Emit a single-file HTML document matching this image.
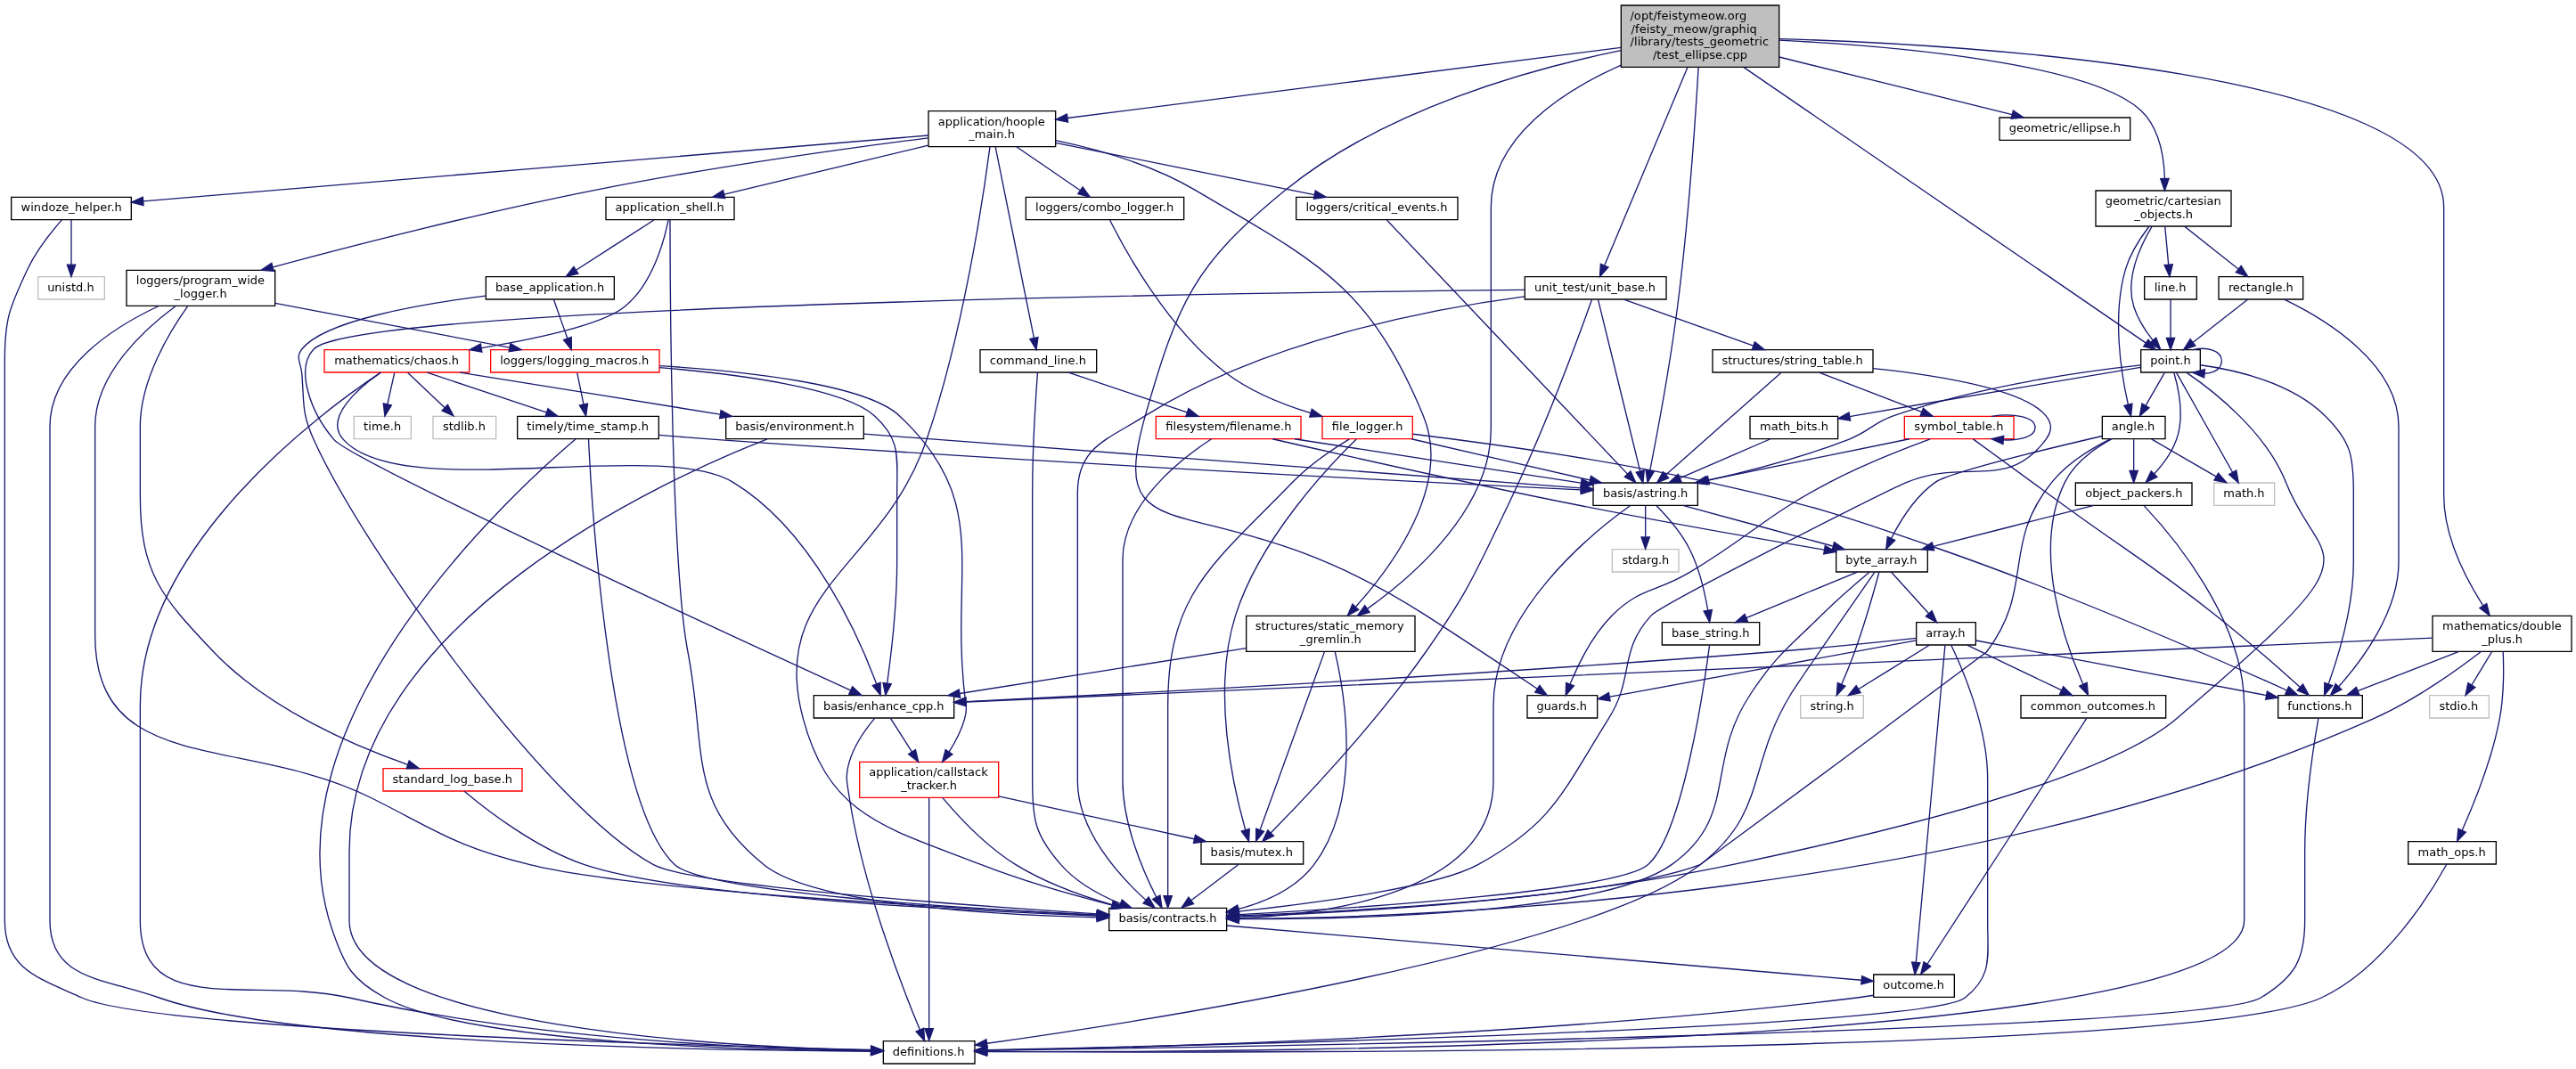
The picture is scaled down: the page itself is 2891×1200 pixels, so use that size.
<!DOCTYPE html>
<html lang="en">
<head>
<meta charset="utf-8">
<title>test_ellipse.cpp include dependency graph</title>
<style>
html,body{margin:0;padding:0;background:#fff;overflow:hidden}
svg{display:block;will-change:transform}
text{font-family:"DejaVu Sans","Liberation Sans",sans-serif;font-size:9.75px;fill:#000;}
.e{fill:none;stroke:#191970;stroke-width:1}
.ah{fill:#191970;stroke:#191970;stroke-width:1}
.nb{fill:#fff;stroke:#000;stroke-width:1}
.nr{fill:#fff;stroke:#f00;stroke-width:1}
.ng{fill:#fff;stroke:#bfbfbf;stroke-width:1}
.root{fill:#bfbfbf}
</style>
</head>
<body>
<svg width="2891.333px" height="1200px" viewBox="0 0 2168.5 900" preserveAspectRatio="none">
<g transform="translate(4 896)">
<polygon class="nb root" points="1360.5,-839.5 1360.5,-891.5 1493.5,-891.5 1493.5,-839.5 1360.5,-839.5"/>
<text x="1368.05" y="-879.5" textLength="98.079">/opt/feistymeow.org</text>
<text x="1368.95" y="-868.5" textLength="105.912">/feisty_meow/graphiq</text>
<text x="1368.2" y="-857.5" textLength="116.627">/library/tests_geometric</text>
<text x="1387.19" y="-846.5" textLength="79.62">/test_ellipse.cpp</text>
<polygon class="nb" points="777.5,-772.5 777.5,-802.5 884.5,-802.5 884.5,-772.5 777.5,-772.5"/>
<text x="785.65" y="-790.5" textLength="89.977">application/hoople</text>
<text x="811.464" y="-779.5" textLength="38.773">_main.h</text>
<path class="e" d="M1360.37,-856C1244.63,-841.25 1008.01,-811.07 894.5,-796.6"/>
<polygon class="ah" points="894.93,-793.12 884.57,-795.33 894.04,-800.07 894.93,-793.12"/>
<polygon class="nb" points="1337,-470.5 1337,-489.5 1425,-489.5 1425,-470.5 1337,-470.5"/>
<text x="1345.258" y="-477.5" textLength="71.484">basis/astring.h</text>
<path class="e" d="M1425.6,-839.29C1423.11,-797.38 1417.3,-710.81 1408,-638 1401.6,-587.87 1390.58,-529.31 1384.79,-499.9"/>
<polygon class="ah" points="1388.17,-498.94 1382.79,-489.81 1381.31,-500.3 1388.17,-498.94"/>
<polygon class="nb" points="1281.5,-291.5 1281.5,-310.5 1340.5,-310.5 1340.5,-291.5 1281.5,-291.5"/>
<text x="1289.36" y="-298.5" textLength="42.38">guards.h</text>
<path class="e" d="M1360.43,-853.48C1285,-838.16 1161.7,-804.23 1078,-736 1000.95,-673.19 987.27,-641.59 960,-546 923.64,-418.55 1011.8,-496.6 1196,-378 1229.04,-356.73 1267.01,-331.48 1289.99,-316.1"/>
<polygon class="ah" points="1291.94,-319.01 1298.3,-310.53 1288.05,-313.19 1291.94,-319.01"/>
<polygon class="nb" points="1045,-347.5 1045,-377.5 1187,-377.5 1187,-347.5 1045,-347.5"/>
<text x="1052.55" y="-365.5" textLength="125.152">structures/static_memory</text>
<text x="1090.112" y="-354.5" textLength="51.776">_gremlin.h</text>
<path class="e" d="M1360.46,-841.18C1310.62,-818.98 1251,-780.16 1251,-721.5 1251,-721.5 1251,-721.5 1251,-535 1251,-468.1 1186.79,-411.91 1146.94,-383.47"/>
<polygon class="ah" points="1148.8,-380.51 1138.6,-377.67 1144.81,-386.25 1148.8,-380.51"/>
<polygon class="nb" points="1760,-705.5 1760,-735.5 1874,-735.5 1874,-705.5 1760,-705.5"/>
<text x="1768" y="-723.5" textLength="97.528">geometric/cartesian</text>
<text x="1792.535" y="-712.5" textLength="49.231">_objects.h</text>
<path class="e" d="M1493.56,-862.12C1588.2,-857.34 1755.01,-843.29 1798,-803 1813.44,-788.53 1817.46,-764.16 1818.06,-745.83"/>
<polygon class="ah" points="1821.56,-745.6 1818.07,-735.59 1814.56,-745.59 1821.56,-745.6"/>
<polygon class="nb" points="1798,-582.5 1798,-601.5 1848,-601.5 1848,-582.5 1798,-582.5"/>
<text x="1805.943" y="-589.5" textLength="34.113">point.h</text>
<path class="e" d="M1463.54,-839.44C1544.76,-783.77 1738.09,-651.21 1802.05,-607.36"/>
<polygon class="ah" points="1804.25,-610.1 1810.52,-601.55 1800.3,-604.32 1804.25,-610.1"/>
<polygon class="nb" points="1679,-778 1679,-797 1789,-797 1789,-778 1679,-778"/>
<text x="1687.001" y="-785" textLength="93.999">geometric/ellipse.h</text>
<path class="e" d="M1493.61,-848.01C1552.97,-833.32 1638.16,-812.23 1689.58,-799.5"/>
<polygon class="ah" points="1690.53,-802.87 1699.39,-797.07 1688.84,-796.07 1690.53,-802.87"/>
<polygon class="nb" points="2043.5,-347.5 2043.5,-377.5 2160.5,-377.5 2160.5,-347.5 2043.5,-347.5"/>
<text x="2051.8" y="-365.5" textLength="100.313">mathematics/double</text>
<text x="2085.011" y="-354.5" textLength="34.277">_plus.h</text>
<path class="e" d="M1493.7,-863.28C1655,-858.53 2053,-835.28 2053,-721.5 2053,-721.5 2053,-721.5 2053,-479 2053,-444.54 2071.71,-408.56 2086.01,-386.1"/>
<polygon class="ah" points="2089.02,-387.9 2091.61,-377.63 2083.18,-384.04 2089.02,-387.9"/>
<polygon class="nb" points="1279.5,-644 1279.5,-663 1398.5,-663 1398.5,-644 1279.5,-644"/>
<text x="1287.579" y="-651" textLength="101.941">unit_test/unit_base.h</text>
<path class="e" d="M1416.39,-839.17C1398.41,-796.28 1362.41,-710.36 1346.66,-672.79"/>
<polygon class="ah" points="1349.72,-671.04 1342.63,-663.17 1343.27,-673.74 1349.72,-671.04"/>
<polygon class="nb" points="506,-711 506,-730 614,-730 614,-711 506,-711"/>
<text x="513.848" y="-718" textLength="91.704">application_shell.h</text>
<path class="e" d="M777.46,-773.66C727.3,-761.63 653.15,-743.84 605.71,-732.46"/>
<polygon class="ah" points="606.26,-729 595.72,-730.07 604.63,-735.8 606.26,-729"/>
<polygon class="nb" points="929.5,-112.5 929.5,-131.5 1028.5,-131.5 1028.5,-112.5 929.5,-112.5"/>
<text x="937.613" y="-119.5" textLength="82.474">basis/contracts.h</text>
<path class="e" d="M829.24,-772.34C824.05,-732.64 807.17,-617.2 776,-526 739.06,-417.92 642.24,-401.27 672,-291 694.46,-207.76 741.72,-199.43 822,-168 858.09,-153.87 900.41,-142 932.01,-134"/>
<polygon class="ah" points="933.01,-137.36 941.87,-131.54 931.32,-130.57 933.01,-137.36"/>
<polygon class="nb" points="821,-582.5 821,-601.5 919,-601.5 919,-582.5 821,-582.5"/>
<text x="829.09" y="-589.5" textLength="81.22">command_line.h</text>
<path class="e" d="M833.87,-772.27C840.82,-737.8 858.55,-649.81 866.29,-611.4"/>
<polygon class="ah" points="869.73,-612.07 868.27,-601.58 862.86,-610.69 869.73,-612.07"/>
<polygon class="nb" points="5.5,-711 5.5,-730 106.5,-730 106.5,-711 5.5,-711"/>
<text x="13.662" y="-718" textLength="84.975">windoze_helper.h</text>
<path class="e" d="M777.43,-782.01C637.9,-770.3 263.94,-738.94 116.74,-726.59"/>
<polygon class="ah" points="116.8,-723.09 106.54,-725.74 116.21,-730.06 116.8,-723.09"/>
<polygon class="nb" points="859.5,-711 859.5,-730 992.5,-730 992.5,-711 859.5,-711"/>
<text x="867.555" y="-718" textLength="116.29">loggers/combo_logger.h</text>
<path class="e" d="M851.61,-772.4C867.4,-761.6 889.09,-746.76 904.97,-735.89"/>
<polygon class="ah" points="907.29,-738.54 913.57,-730.01 903.34,-732.77 907.29,-738.54"/>
<polygon class="nb" points="1087,-711 1087,-730 1223,-730 1223,-711 1087,-711"/>
<text x="1095.077" y="-718" textLength="119.245">loggers/critical_events.h</text>
<path class="e" d="M884.5,-775.77C944.82,-763.67 1042.27,-744.11 1102.27,-732.08"/>
<polygon class="ah" points="1103.18,-735.47 1112.29,-730.07 1101.8,-728.6 1103.18,-735.47"/>
<path class="e" d="M884.6,-777.73C919.76,-770.33 965.75,-757.42 1002,-736 1105.36,-674.93 1147.77,-656.79 1194,-546 1218.32,-487.71 1167.82,-419.33 1137.18,-385.19"/>
<polygon class="ah" points="1139.59,-382.64 1130.24,-377.66 1134.45,-387.39 1139.59,-382.64"/>
<polygon class="nb" points="102.5,-638.5 102.5,-668.5 227.5,-668.5 227.5,-638.5 102.5,-638.5"/>
<text x="110.65" y="-656.5" textLength="108.068">loggers/program_wide</text>
<text x="142.713" y="-645.5" textLength="44.273">_logger.h</text>
<path class="e" d="M777.23,-779.9C711.01,-771.41 595.23,-755.44 497,-736 401.47,-717.09 292.02,-688.94 225.73,-671.16"/>
<polygon class="ah" points="226.43,-667.73 215.87,-668.51 224.61,-674.49 226.43,-667.73"/>
<polygon class="nb" points="405,-644 405,-663 513,-663 513,-644 405,-644"/>
<text x="413.011" y="-651" textLength="91.678">base_application.h</text>
<path class="e" d="M546.38,-710.73C529.57,-699.92 500.77,-681.38 480.86,-668.57"/>
<polygon class="ah" points="482.71,-665.6 472.41,-663.13 478.92,-671.48 482.71,-665.6"/>
<path class="e" d="M559.99,-710.7C560.01,-661.47 560.84,-419.91 575,-347 591.11,-264.06 573.28,-221.09 639,-168 680.89,-134.16 833.35,-125.67 919.2,-123.61"/>
<polygon class="ah" points="919.4,-127.1 929.32,-123.39 919.25,-120.11 919.4,-127.1"/>
<polygon class="nr" points="269,-582.5 269,-601.5 391,-601.5 391,-582.5 269,-582.5"/>
<text x="277.391" y="-589.5" textLength="104.918">mathematics/chaos.h</text>
<path class="e" d="M558.53,-710.84C555.21,-694.06 545.51,-657.1 522,-638 503.43,-622.91 447.92,-610.89 401.34,-603.08"/>
<polygon class="ah" points="401.68,-599.59 391.24,-601.43 400.55,-606.5 401.68,-599.59"/>
<path class="e" d="M404.76,-646.94C349.38,-640.01 268.93,-626.05 250,-602 244.5,-595.02 249.22,-590.85 250,-582 252.23,-556.82 249.57,-549.03 260,-526 302.02,-433.25 456.65,-216.83 546,-168 578.04,-150.49 808.38,-133.78 919.43,-126.63"/>
<polygon class="ah" points="919.71,-130.12 929.47,-125.99 919.27,-123.14 919.71,-130.12"/>
<polygon class="nr" points="409,-582.5 409,-601.5 551,-601.5 551,-582.5 409,-582.5"/>
<text x="416.931" y="-589.5" textLength="125.238">loggers/logging_macros.h</text>
<path class="e" d="M462.01,-643.98C465.03,-635.4 469.79,-621.93 473.65,-610.98"/>
<polygon class="ah" points="476.97,-612.1 477,-601.51 470.37,-609.77 476.97,-612.1"/>
<polygon class="nb" points="1573,-56.5 1573,-75.5 1641,-75.5 1641,-56.5 1573,-56.5"/>
<text x="1580.996" y="-63.5" textLength="51.408">outcome.h</text>
<path class="e" d="M1028.54,-116.74C1147.77,-106.49 1449.2,-80.57 1562.79,-70.8"/>
<polygon class="ah" points="1563.2,-74.28 1572.86,-69.94 1562.6,-67.31 1563.2,-74.28"/>
<polygon class="nb" points="739.5,-0.5 739.5,-19.5 816.5,-19.5 816.5,-0.5 739.5,-0.5"/>
<text x="747.306" y="-7.5" textLength="60.488">definitions.h</text>
<path class="e" d="M1573,-58.07C1568.31,-57.28 1563.54,-56.55 1559,-56 1283.58,-22.38 950.37,-13.76 827,-11.65"/>
<polygon class="ah" points="826.81,-8.15 816.76,-11.48 826.7,-15.15 826.81,-8.15"/>
<polygon class="nr" points="719.5,-224.5 719.5,-254.5 836.5,-254.5 836.5,-224.5 719.5,-224.5"/>
<text x="727.35" y="-242.5" textLength="100.186">application/callstack</text>
<text x="754.458" y="-231.5" textLength="47.084">_tracker.h</text>
<path class="e" d="M551.24,-588.05C622.18,-583.61 724.5,-572.66 753,-546 831.33,-472.72 795.7,-417.56 808,-311 809.02,-302.17 810.35,-299.57 808,-291 805.3,-281.18 800.14,-271.33 794.85,-262.98"/>
<polygon class="ah" points="797.67,-260.9 789.17,-254.57 791.87,-264.82 797.67,-260.9"/>
<polygon class="nb" points="681,-291.5 681,-310.5 799,-310.5 799,-291.5 681,-291.5"/>
<text x="689.018" y="-298.5" textLength="101.665">basis/enhance_cpp.h</text>
<path class="e" d="M551.03,-586.58C616.01,-581.1 705.87,-569.45 732,-546 754.4,-525.89 751,-511.1 751,-481 751,-481 751,-481 751,-423 751,-386.75 746.04,-344.63 742.78,-320.87"/>
<polygon class="ah" points="746.22,-320.19 741.35,-310.78 739.29,-321.17 746.22,-320.19"/>
<polygon class="nb" points="431.5,-526.5 431.5,-545.5 550.5,-545.5 550.5,-526.5 431.5,-526.5"/>
<text x="439.441" y="-533.5" textLength="102.518">timely/time_stamp.h</text>
<path class="e" d="M481.82,-582.08C483.27,-574.93 485.37,-564.64 487.19,-555.69"/>
<polygon class="ah" points="490.65,-556.25 489.22,-545.75 483.79,-554.85 490.65,-556.25"/>
<path class="e" d="M789.26,-224.47C802.53,-208.75 825.96,-183.46 851,-168 875.95,-152.6 906.9,-141.54 932.12,-134.23"/>
<polygon class="ah" points="933.14,-137.58 941.83,-131.52 931.25,-130.84 933.14,-137.58"/>
<path class="e" d="M778,-224.27C778,-184.89 778,-74.49 778,-29.97"/>
<polygon class="ah" points="781.5,-29.93 778,-19.93 774.5,-29.93 781.5,-29.93"/>
<polygon class="nb" points="1007,-168.5 1007,-187.5 1093,-187.5 1093,-168.5 1007,-168.5"/>
<text x="1014.943" y="-175.5" textLength="69.213">basis/mutex.h</text>
<path class="e" d="M836.69,-225.66C885.76,-214.93 954.95,-199.79 1001.07,-189.7"/>
<polygon class="ah" points="1002.1,-193.06 1011.13,-187.5 1000.61,-186.22 1002.1,-193.06"/>
<path class="e" d="M1038.59,-168.32C1027.89,-160.18 1011.66,-147.84 998.84,-138.09"/>
<polygon class="ah" points="1000.69,-135.1 990.61,-131.83 996.46,-140.67 1000.69,-135.1"/>
<path class="e" d="M732.33,-291.46C725.22,-282.93 715.15,-269.09 711,-255 707.11,-241.78 708.91,-237.62 711,-224 722.46,-149.37 755.27,-65 770.3,-28.92"/>
<polygon class="ah" points="773.53,-30.27 774.2,-19.7 767.08,-27.55 773.53,-30.27"/>
<path class="e" d="M745.44,-291.48C750.16,-284.09 757.19,-273.08 763.52,-263.17"/>
<polygon class="ah" points="766.61,-264.83 769.04,-254.52 760.71,-261.07 766.61,-264.83"/>
<path class="e" d="M491.38,-526.31C493.82,-475.6 508.77,-218.55 564,-168 589.67,-144.51 810.39,-130.94 919.06,-125.62"/>
<polygon class="ah" points="919.4,-129.11 929.22,-125.13 919.06,-122.12 919.4,-129.11"/>
<path class="e" d="M480.66,-526.47C430.25,-483.77 215.01,-288.34 276,-112 286.35,-82.09 292.24,-71.21 320,-56 389.43,-17.95 625.87,-11.84 729.11,-11.03"/>
<polygon class="ah" points="729.28,-14.53 739.26,-10.96 729.24,-7.53 729.28,-14.53"/>
<path class="e" d="M550.69,-529.7C566.09,-528.41 582.66,-527.09 598,-526 871.46,-506.64 1199.11,-489.9 1326.56,-483.63"/>
<polygon class="ah" points="1327.01,-487.11 1336.82,-483.13 1326.66,-480.12 1327.01,-487.11"/>
<path class="e" d="M1368.26,-470.32C1335.88,-447.13 1253,-380.12 1253,-302 1253,-302 1253,-302 1253,-238.5 1253,-146.17 1119.26,-126.48 1038.66,-122.99"/>
<polygon class="ah" points="1038.74,-119.49 1028.62,-122.63 1038.49,-126.49 1038.74,-119.49"/>
<polygon class="nb" points="1395,-353 1395,-372 1477,-372 1477,-353 1395,-353"/>
<text x="1403.046" y="-360" textLength="65.609">base_string.h</text>
<path class="e" d="M1390.26,-470.21C1398.69,-461.71 1410.87,-448.07 1418,-434 1426.37,-417.48 1431.06,-396.76 1433.54,-382.06"/>
<polygon class="ah" points="1437,-382.58 1435.02,-372.17 1430.07,-381.54 1437,-382.58"/>
<polygon class="nb" points="1541.5,-414.5 1541.5,-433.5 1618.5,-433.5 1618.5,-414.5 1541.5,-414.5"/>
<text x="1549.527" y="-421.5" textLength="60.047">byte_array.h</text>
<path class="e" d="M1412.53,-470.44C1446.59,-461.2 1501.01,-446.44 1538.52,-436.26"/>
<polygon class="ah" points="1539.88,-439.51 1548.62,-433.52 1538.05,-432.76 1539.88,-439.51"/>
<polygon class="ng" points="1353,-414.5 1353,-433.5 1409,-433.5 1409,-414.5 1353,-414.5"/>
<text x="1361.288" y="-421.5" textLength="39.724">stdarg.h</text>
<path class="e" d="M1381,-470.08C1381,-463.01 1381,-452.86 1381,-443.99"/>
<polygon class="ah" points="1384.5,-443.75 1381,-433.75 1377.5,-443.75 1384.5,-443.75"/>
<path class="e" d="M1434.88,-352.57C1430.33,-317.91 1412.13,-192.89 1383,-168 1357.4,-146.12 1145.34,-131.85 1039.13,-126.01"/>
<polygon class="ah" points="1039.06,-122.5 1028.89,-125.45 1038.68,-129.49 1039.06,-122.5"/>
<path class="e" d="M1569.52,-414.38C1558.98,-405.56 1542.41,-391.31 1529,-378 1500.63,-349.84 1490.95,-344.41 1469,-311 1430.56,-252.5 1459.89,-208.79 1403,-168 1346.08,-127.18 1141.6,-122.12 1038.84,-122.26"/>
<polygon class="ah" points="1038.61,-118.76 1028.62,-122.29 1038.63,-125.76 1038.61,-118.76"/>
<path class="e" d="M1574.06,-414.48C1557.12,-390.17 1509.42,-321.6 1503,-311 1465.73,-249.43 1483.94,-212.02 1427,-168 1331.36,-94.06 960.78,-36.39 826.74,-17.56"/>
<polygon class="ah" points="827.14,-14.08 816.75,-16.16 826.17,-21.01 827.14,-14.08"/>
<path class="e" d="M1559.37,-414.48C1534.88,-404.36 1493.85,-387.4 1465.89,-375.85"/>
<polygon class="ah" points="1467.17,-372.59 1456.59,-372.01 1464.5,-379.06 1467.17,-372.59"/>
<polygon class="nb" points="1609,-353 1609,-372 1659,-372 1659,-353 1609,-353"/>
<text x="1616.989" y="-360" textLength="33.122">array.h</text>
<path class="e" d="M1587.74,-414.48C1596,-405.37 1609.28,-390.74 1619.49,-379.48"/>
<polygon class="ah" points="1622.15,-381.77 1626.28,-372.01 1616.97,-377.06 1622.15,-381.77"/>
<polygon class="ng" points="1511.5,-291.5 1511.5,-310.5 1564.5,-310.5 1564.5,-291.5 1511.5,-291.5"/>
<text x="1519.685" y="-298.5" textLength="36.93">string.h</text>
<path class="e" d="M1577.74,-414.47C1573.91,-400.31 1565.71,-371.12 1557,-347 1553.72,-337.92 1549.59,-328.01 1546.03,-319.8"/>
<polygon class="ah" points="1549.17,-318.25 1541.92,-310.52 1542.77,-321.08 1549.17,-318.25"/>
<path class="e" d="M1633.19,-352.69C1629.47,-312.13 1613.97,-142.97 1608.73,-85.9"/>
<polygon class="ah" points="1612.2,-85.42 1607.8,-75.78 1605.23,-86.06 1612.2,-85.42"/>
<path class="e" d="M1638.29,-352.94C1647.64,-333.49 1669,-284.24 1669,-240.5 1669,-240.5 1669,-240.5 1669,-121 1669,-90.9 1673.61,-74.67 1650,-56 1617.54,-30.33 1005.81,-15.71 826.81,-11.97"/>
<polygon class="ah" points="826.7,-8.46 816.63,-11.76 826.56,-15.46 826.7,-8.46"/>
<path class="e" d="M1608.89,-358.75C1579.46,-355.6 1529.24,-350.42 1486,-347 1237.28,-327.32 941.3,-311.82 809.4,-305.32"/>
<polygon class="ah" points="809.2,-301.8 799.04,-304.81 808.86,-308.8 809.2,-301.8"/>
<polygon class="nb" points="1697,-291.5 1697,-310.5 1819,-310.5 1819,-291.5 1697,-291.5"/>
<text x="1705.066" y="-298.5" textLength="105.267">common_outcomes.h</text>
<path class="e" d="M1651.77,-352.98C1672.48,-343.03 1706.95,-326.49 1730.99,-314.96"/>
<polygon class="ah" points="1732.77,-317.99 1740.27,-310.51 1729.74,-311.68 1732.77,-317.99"/>
<polygon class="nb" points="1913.5,-291.5 1913.5,-310.5 1984.5,-310.5 1984.5,-291.5 1913.5,-291.5"/>
<text x="1921.485" y="-298.5" textLength="54.129">functions.h</text>
<path class="e" d="M1659.25,-356.73C1712.36,-346.7 1836.3,-323.29 1903.59,-310.58"/>
<polygon class="ah" points="1904.31,-314 1913.48,-308.71 1903.01,-307.13 1904.31,-314"/>
<path class="e" d="M1608.92,-356.88C1553.21,-346.62 1418.72,-321.84 1351.16,-309.4"/>
<polygon class="ah" points="1351.38,-305.88 1340.91,-307.51 1350.11,-312.76 1351.38,-305.88"/>
<path class="e" d="M1620.25,-352.98C1604.63,-343.3 1578.94,-327.37 1560.42,-315.89"/>
<polygon class="ah" points="1562.07,-312.8 1551.73,-310.51 1558.38,-318.75 1562.07,-312.8"/>
<path class="e" d="M1752.45,-291.43C1730.35,-257.33 1648.37,-130.84 1618.22,-84.32"/>
<polygon class="ah" points="1621.14,-82.38 1612.77,-75.9 1615.27,-86.19 1621.14,-82.38"/>
<path class="e" d="M1947.41,-291.23C1943.93,-271.34 1936,-221.26 1936,-179 1936,-179 1936,-179 1936,-121 1936,-87.76 1927.4,-73.28 1899,-56 1852.62,-27.78 1036.53,-14.58 826.81,-11.64"/>
<polygon class="ah" points="826.76,-8.14 816.71,-11.5 826.66,-15.14 826.76,-8.14"/>
<path class="e" d="M316.49,-582.39C269.2,-551.07 114,-437.93 114,-302 114,-302 114,-302 114,-121 114,-37.61 208.68,-74.43 290,-56 447.84,-20.23 640.55,-12.77 729.16,-11.3"/>
<polygon class="ah" points="729.24,-14.8 739.19,-11.15 729.14,-7.8 729.24,-14.8"/>
<path class="e" d="M316.41,-582.3C297.78,-569.33 268.42,-544.5 285,-526 333.94,-471.4 550.22,-527.89 613,-490 679.89,-449.63 719.37,-358.96 733.76,-320.17"/>
<polygon class="ah" points="737.07,-321.28 737.15,-310.69 730.48,-318.92 737.07,-321.28"/>
<path class="e" d="M355.51,-582.44C382.6,-573.36 425.59,-558.94 455.87,-548.78"/>
<polygon class="ah" points="457.24,-552.01 465.61,-545.52 455.01,-545.38 457.24,-552.01"/>
<polygon class="nb" points="607,-526.5 607,-545.5 723,-545.5 723,-526.5 607,-526.5"/>
<text x="614.913" y="-533.5" textLength="100.174">basis/environment.h</text>
<path class="e" d="M383.08,-582.44C442.5,-572.87 538.72,-557.36 601.93,-547.17"/>
<polygon class="ah" points="602.85,-550.56 612.17,-545.52 601.74,-543.65 602.85,-550.56"/>
<polygon class="ng" points="360.5,-526.5 360.5,-545.5 413.5,-545.5 413.5,-526.5 360.5,-526.5"/>
<text x="368.729" y="-533.5" textLength="35.941">stdlib.h</text>
<path class="e" d="M339.16,-582.32C347.5,-574.42 360.03,-562.55 370.18,-552.94"/>
<polygon class="ah" points="372.82,-555.25 377.68,-545.83 368.01,-550.17 372.82,-555.25"/>
<polygon class="ng" points="294,-526.5 294,-545.5 342,-545.5 342,-526.5 294,-526.5"/>
<text x="302.061" y="-533.5" textLength="31.577">time.h</text>
<path class="e" d="M328.02,-582.08C326.43,-574.93 324.14,-564.64 322.15,-555.69"/>
<polygon class="ah" points="325.53,-554.75 319.94,-545.75 318.7,-556.27 325.53,-554.75"/>
<path class="e" d="M641.83,-526.4C560.07,-494.42 290,-374.02 290,-179 290,-179 290,-179 290,-121 290,-31.65 605.23,-14.87 728.98,-11.72"/>
<polygon class="ah" points="729.38,-15.22 739.3,-11.48 729.22,-8.22 729.38,-15.22"/>
<path class="e" d="M723.29,-530.6C859,-520.37 1194.53,-495.06 1326.46,-485.11"/>
<polygon class="ah" points="1327.02,-488.58 1336.73,-484.34 1326.49,-481.6 1327.02,-488.58"/>
<path class="e" d="M869.35,-582.45C867.99,-563.95 865,-518.85 865,-481 865,-481 865,-481 865,-238.5 865,-205.4 867.23,-192.94 889,-168 902.18,-152.9 921.63,-142.29 939.08,-135.19"/>
<polygon class="ah" points="940.41,-138.43 948.51,-131.59 937.92,-131.88 940.41,-138.43"/>
<polygon class="nr" points="969,-526.5 969,-545.5 1091,-545.5 1091,-526.5 969,-526.5"/>
<text x="977.182" y="-533.5" textLength="105.935">filesystem/filename.h</text>
<path class="e" d="M895.35,-582.44C922.27,-573.36 965,-558.94 995.09,-548.78"/>
<polygon class="ah" points="996.41,-552.03 1004.77,-545.52 994.17,-545.4 996.41,-552.03"/>
<path class="e" d="M1015.7,-526.4C990.54,-510.06 941,-471.92 941,-425 941,-425 941,-425 941,-238.5 941,-202.25 958.09,-162.67 969.35,-140.53"/>
<polygon class="ah" points="972.46,-142.14 974.03,-131.66 966.27,-138.87 972.46,-142.14"/>
<path class="e" d="M1085.62,-526.44C1151.67,-516.28 1261.13,-499.44 1326.63,-489.36"/>
<polygon class="ah" points="1327.41,-492.79 1336.76,-487.81 1326.34,-485.87 1327.41,-492.79"/>
<path class="e" d="M1067.07,-526.44C1123.34,-513.55 1233.73,-488.69 1328,-470 1398.56,-456.01 1480.62,-441.72 1531.45,-433.11"/>
<polygon class="ah" points="1532.21,-436.53 1541.49,-431.41 1531.05,-429.62 1532.21,-436.53"/>
<path class="e" d="M48.03,-710.87C39.63,-701.32 26.57,-685.14 19,-669 4.21,-637.48 0,-627.82 0,-593 0,-593 0,-593 0,-121 0,-80.14 27.77,-72.82 65,-56 125.09,-28.86 577.31,-15.76 728.75,-12.1"/>
<polygon class="ah" points="729.21,-15.59 739.13,-11.85 729.04,-8.59 729.21,-15.59"/>
<polygon class="ng" points="28,-644 28,-663 84,-663 84,-644 28,-644"/>
<text x="35.851" y="-651" textLength="39.398">unistd.h</text>
<path class="e" d="M56,-710.73C56,-701.18 56,-685.62 56,-673.28"/>
<polygon class="ah" points="59.5,-673.13 56,-663.13 52.5,-673.13 59.5,-673.13"/>
<polygon class="nr" points="1109,-526.5 1109,-545.5 1185,-545.5 1185,-526.5 1109,-526.5"/>
<text x="1117.151" y="-533.5" textLength="59.698">file_logger.h</text>
<path class="e" d="M930.21,-710.74C942.17,-686.75 978.67,-619.27 1028,-582 1048.97,-566.16 1076.16,-555.32 1099.25,-548.26"/>
<polygon class="ah" points="1100.25,-551.61 1108.87,-545.46 1098.29,-544.89 1100.25,-551.61"/>
<path class="e" d="M1131.81,-526.36C1118.25,-518.16 1098.37,-504.9 1084,-490 1017.57,-421.11 979,-397.7 979,-302 979,-302 979,-302 979,-238.5 979,-204.36 979,-164.55 979,-141.71"/>
<polygon class="ah" points="982.5,-141.69 979,-131.69 975.5,-141.69 982.5,-141.69"/>
<path class="e" d="M1137.67,-526.23C1114.86,-504.06 1056.62,-442.9 1036,-378 1015.74,-314.26 1034.01,-233.45 1044.21,-197.59"/>
<polygon class="ah" points="1047.69,-198.19 1047.18,-187.61 1040.98,-196.2 1047.69,-198.19"/>
<path class="e" d="M1184.08,-526.44C1224.73,-517.06 1290.03,-501.99 1334.18,-491.8"/>
<polygon class="ah" points="1335.14,-495.18 1344.1,-489.52 1333.56,-488.35 1335.14,-495.18"/>
<path class="e" d="M1185.35,-530.54C1240.66,-523.76 1345.86,-509.55 1434,-490 1521.61,-470.57 1543.26,-463.55 1628,-434 1738.3,-395.53 1865.62,-339.63 1920.94,-314.76"/>
<polygon class="ah" points="1922.43,-317.92 1930.1,-310.62 1919.55,-311.54 1922.43,-317.92"/>
<path class="e" d="M1163.31,-710.73C1196.82,-675.37 1322.26,-542.99 1365.91,-496.92"/>
<polygon class="ah" points="1368.51,-499.27 1372.85,-489.6 1363.43,-494.45 1368.51,-499.27"/>
<path class="e" d="M1119.68,-347.33C1127.77,-312.72 1143.27,-222.72 1102,-168 1086.91,-147.98 1062,-136.86 1038.53,-130.69"/>
<polygon class="ah" points="1039.13,-127.23 1028.6,-128.33 1037.52,-134.04 1039.13,-127.23"/>
<path class="e" d="M1110.93,-347.48C1099.17,-314.96 1070.01,-234.34 1056.76,-197.68"/>
<polygon class="ah" points="1059.88,-196.03 1053.19,-187.82 1053.3,-198.41 1059.88,-196.03"/>
<path class="e" d="M1044.84,-350.24C975.38,-339.25 870.66,-322.68 803.83,-312.1"/>
<polygon class="ah" points="804.27,-308.63 793.84,-310.52 803.17,-315.54 804.27,-308.63"/>
<path class="e" d="M143.91,-638.43C117.59,-619.01 76,-581.3 76,-537 76,-537 76,-537 76,-361.5 76,-241.26 201.57,-278.01 309,-224 366.3,-195.19 379.72,-183.31 442,-168 531.05,-146.11 798.61,-131.36 919.07,-125.65"/>
<polygon class="ah" points="919.4,-129.14 929.22,-125.17 919.07,-122.14 919.4,-129.14"/>
<path class="e" d="M129.62,-638.37C92.05,-620.76 38,-586.77 38,-537 38,-537 38,-537 38,-121 38,-70.94 82.84,-72.8 130,-56 240.28,-16.71 597.93,-11.55 729.15,-11"/>
<polygon class="ah" points="729.31,-14.5 739.3,-10.97 729.29,-7.5 729.31,-14.5"/>
<path class="e" d="M227.61,-640.67C285.21,-629.79 369.8,-613.82 424.89,-603.41"/>
<polygon class="ah" points="425.64,-606.83 434.82,-601.53 424.34,-599.95 425.64,-606.83"/>
<polygon class="nr" points="318.5,-230 318.5,-249 435.5,-249 435.5,-230 318.5,-230"/>
<text x="326.417" y="-237" textLength="100.866">standard_log_base.h</text>
<path class="e" d="M154.18,-638.44C139.21,-617.53 114,-576.46 114,-537 114,-537 114,-537 114,-479 114,-414.18 131.28,-393.92 176,-347 222.1,-298.63 295.07,-267.67 339.25,-252.24"/>
<polygon class="ah" points="340.42,-255.54 348.75,-249.01 338.16,-248.92 340.42,-255.54"/>
<path class="e" d="M386.85,-229.89C405.25,-214.39 446.73,-182.07 488,-168 566.27,-141.31 806.09,-129.27 919.02,-124.98"/>
<polygon class="ah" points="919.35,-128.47 929.21,-124.6 919.09,-121.47 919.35,-128.47"/>
<polygon class="nb" points="1765.5,-526.5 1765.5,-545.5 1818.5,-545.5 1818.5,-526.5 1765.5,-526.5"/>
<text x="1773.404" y="-533.5" textLength="36.293">angle.h</text>
<path class="e" d="M1804.76,-705.12C1797.46,-695.57 1788.88,-682.36 1785,-669 1773.64,-629.83 1781.42,-581.44 1787.25,-555.5"/>
<polygon class="ah" points="1790.7,-556.1 1789.64,-545.56 1783.9,-554.47 1790.7,-556.1"/>
<polygon class="nb" points="1801,-644 1801,-663 1845,-663 1845,-644 1801,-644"/>
<text x="1809.276" y="-651" textLength="26.848">line.h</text>
<path class="e" d="M1818.3,-705.4C1819.17,-695.96 1820.33,-683.45 1821.27,-673.19"/>
<polygon class="ah" points="1824.76,-673.47 1822.2,-663.19 1817.79,-672.83 1824.76,-673.47"/>
<path class="e" d="M1807.37,-705.36C1797.53,-689.09 1784.66,-661.6 1792,-638 1795.23,-627.62 1801.78,-617.52 1808.02,-609.53"/>
<polygon class="ah" points="1810.79,-611.68 1814.52,-601.77 1805.42,-607.19 1810.79,-611.68"/>
<polygon class="nb" points="1863.5,-644 1863.5,-663 1934.5,-663 1934.5,-644 1863.5,-644"/>
<text x="1871.679" y="-651" textLength="54.642">rectangle.h</text>
<path class="e" d="M1834.79,-705.4C1848.08,-694.86 1866.23,-680.48 1879.84,-669.69"/>
<polygon class="ah" points="1882.37,-672.15 1888.03,-663.19 1878.02,-666.66 1882.37,-672.15"/>
<path class="e" d="M1772.32,-526.36C1757.01,-518.76 1736.22,-506.35 1723,-490 1680.18,-437.05 1709.19,-401.23 1668,-347 1666.74,-345.34 1428.94,-168.75 1427,-168 1357.69,-141.16 1144.14,-129.36 1038.89,-125.07"/>
<polygon class="ah" points="1038.88,-121.57 1028.75,-124.67 1038.6,-128.56 1038.88,-121.57"/>
<path class="e" d="M1765.35,-528.88C1721.19,-518.59 1636.53,-498.13 1625,-490 1608.05,-478.05 1595.43,-457.55 1587.93,-442.77"/>
<polygon class="ah" points="1591.04,-441.14 1583.57,-433.62 1584.72,-444.15 1591.04,-441.14"/>
<path class="e" d="M1773.61,-526.47C1759.9,-519 1742.19,-506.71 1734,-490 1706.06,-432.96 1733.9,-355.05 1749.29,-320.17"/>
<polygon class="ah" points="1752.6,-321.35 1753.59,-310.8 1746.24,-318.43 1752.6,-321.35"/>
<polygon class="nb" points="1743,-470.5 1743,-489.5 1841,-489.5 1841,-470.5 1743,-470.5"/>
<text x="1751.14" y="-477.5" textLength="82.02">object_packers.h</text>
<path class="e" d="M1792,-526.08C1792,-519.01 1792,-508.86 1792,-499.99"/>
<polygon class="ah" points="1795.5,-499.75 1792,-489.75 1788.5,-499.75 1795.5,-499.75"/>
<polygon class="ng" points="1859.5,-470.5 1859.5,-489.5 1910.5,-489.5 1910.5,-470.5 1859.5,-470.5"/>
<text x="1867.489" y="-477.5" textLength="34.723">math.h</text>
<path class="e" d="M1806.94,-526.32C1821.59,-517.82 1844.13,-504.73 1861.24,-494.8"/>
<polygon class="ah" points="1863.2,-497.7 1870.1,-489.65 1859.69,-491.65 1863.2,-497.7"/>
<path class="e" d="M1800.58,-470.28C1823.61,-445.92 1885,-374.2 1885,-302 1885,-302 1885,-302 1885,-121 1885,-13.1 1041.4,-9.76 827.06,-10.65"/>
<polygon class="ah" points="826.73,-7.15 816.75,-10.7 826.77,-14.15 826.73,-7.15"/>
<path class="e" d="M1758.41,-470.44C1721.81,-461.12 1663.16,-446.18 1623.17,-436"/>
<polygon class="ah" points="1623.99,-432.59 1613.43,-433.52 1622.26,-439.38 1623.99,-432.59"/>
<path class="e" d="M1823,-643.98C1823,-635.58 1823,-622.48 1823,-611.66"/>
<polygon class="ah" points="1826.5,-611.51 1823,-601.51 1819.5,-611.51 1826.5,-611.51"/>
<path class="e" d="M1836.36,-582.41C1858.81,-567.07 1903.29,-532.54 1920,-490 1950.1,-413.34 2004.19,-441.49 1828,-291 1761.47,-234.18 1539.64,-185.9 1454,-168 1306.83,-137.23 1129.57,-127.47 1038.87,-124.4"/>
<polygon class="ah" points="1038.89,-120.9 1028.78,-124.07 1038.66,-127.89 1038.89,-120.9"/>
<path class="e" d="M1797.88,-588.59C1754.48,-583.9 1663.08,-571.66 1590,-546 1571.99,-539.68 1569.79,-532.92 1552,-526 1513.59,-511.06 1468.44,-499.42 1434.18,-491.72"/>
<polygon class="ah" points="1434.89,-488.29 1424.37,-489.55 1433.38,-495.13 1434.89,-488.29"/>
<path class="e" d="M1848.11,-588.69C1877.03,-584.75 1924.25,-574.16 1953,-546 1975,-524.45 1977,-511.8 1977,-481 1977,-481 1977,-481 1977,-423 1977,-385.77 1964.26,-343.72 1955.97,-320.29"/>
<polygon class="ah" points="1959.16,-318.83 1952.43,-310.65 1952.59,-321.24 1959.16,-318.83"/>
<path class="e" d="M1817.88,-582.08C1813.59,-574.61 1807.34,-563.72 1802.06,-554.52"/>
<polygon class="ah" points="1805.04,-552.68 1797.02,-545.75 1798.97,-556.17 1805.04,-552.68"/>
<path class="e" d="M1825.84,-582.3C1829.53,-569.55 1834.74,-545.22 1828,-526 1824.21,-515.21 1816.63,-505.08 1809.4,-497.18"/>
<polygon class="ah" points="1811.67,-494.49 1802.16,-489.81 1806.67,-499.4 1811.67,-494.49"/>
<path class="e" d="M1827.87,-582.37C1838.05,-564.3 1861.79,-522.18 1875.24,-498.31"/>
<polygon class="ah" points="1878.3,-500.02 1880.16,-489.59 1872.2,-496.58 1878.3,-500.02"/>
<path class="e" d="M1841.56,-601.57C1853.95,-604.27 1866,-601.08 1866,-592 1866,-585.48 1859.77,-581.99 1851.67,-581.55"/>
<polygon class="ah" points="1851.22,-578.07 1841.56,-582.43 1851.83,-585.05 1851.22,-578.07"/>
<polygon class="nb" points="1469,-526.5 1469,-545.5 1543,-545.5 1543,-526.5 1469,-526.5"/>
<text x="1477.318" y="-533.5" textLength="57.663">math_bits.h</text>
<path class="e" d="M1797.68,-586.78C1750.38,-578.88 1645.38,-561.27 1557,-546 1555.73,-545.78 1554.44,-545.56 1553.14,-545.33"/>
<polygon class="ah" points="1553.49,-541.84 1543.04,-543.57 1552.29,-548.74 1553.49,-541.84"/>
<path class="e" d="M1486.19,-526.44C1465.71,-517.6 1433.52,-503.69 1410.14,-493.59"/>
<polygon class="ah" points="1411.28,-490.27 1400.71,-489.52 1408.51,-496.7 1411.28,-490.27"/>
<path class="e" d="M1918.68,-643.94C1951.77,-628.07 2015,-590.71 2015,-537 2015,-537 2015,-537 2015,-423 2015,-380.99 1983.96,-339.69 1964.45,-317.89"/>
<polygon class="ah" points="1966.99,-315.48 1957.63,-310.52 1961.86,-320.24 1966.99,-315.48"/>
<path class="e" d="M1888.11,-643.98C1876.03,-634.52 1856.33,-619.1 1841.76,-607.69"/>
<polygon class="ah" points="1843.9,-604.92 1833.87,-601.51 1839.59,-610.43 1843.9,-604.92"/>
<path class="e" d="M2084.3,-347.39C2063.7,-331.61 2028.14,-306.25 1994,-291 1656.09,-140.07 1200.25,-123.4 1038.75,-122.53"/>
<polygon class="ah" points="1038.55,-119.03 1028.54,-122.5 1038.53,-126.03 1038.55,-119.03"/>
<path class="e" d="M2043.48,-358.94C1823.48,-349.33 1046.5,-315.39 809.29,-305.03"/>
<polygon class="ah" points="809.21,-301.52 799.07,-304.58 808.91,-308.51 809.21,-301.52"/>
<path class="e" d="M2065.74,-347.4C2039.96,-337.37 2005.64,-324.03 1980.9,-314.4"/>
<polygon class="ah" points="1981.85,-311.02 1971.26,-310.66 1979.31,-317.54 1981.85,-311.02"/>
<polygon class="nb" points="2023,-168.5 2023,-187.5 2097,-187.5 2097,-168.5 2023,-168.5"/>
<text x="2031.15" y="-175.5" textLength="57.101">math_ops.h</text>
<path class="e" d="M2102.89,-347.32C2103.49,-332.98 2103.62,-310.25 2100,-291 2093.55,-256.65 2078.13,-218.75 2068.44,-197.02"/>
<polygon class="ah" points="2071.54,-195.38 2064.2,-187.73 2065.17,-198.29 2071.54,-195.38"/>
<polygon class="ng" points="2041,-291.5 2041,-310.5 2091,-310.5 2091,-291.5 2041,-291.5"/>
<text x="2049.132" y="-298.5" textLength="32.836">stdio.h</text>
<path class="e" d="M2093.47,-347.4C2088.4,-339.02 2081.93,-328.33 2076.54,-319.42"/>
<polygon class="ah" points="2079.41,-317.4 2071.24,-310.66 2073.42,-321.03 2079.41,-317.4"/>
<path class="e" d="M2055.49,-168.46C2042.69,-145.22 2003.53,-80.92 1950,-56 1847.15,-8.12 1035.15,-9.5 826.66,-10.66"/>
<polygon class="ah" points="826.6,-7.16 816.62,-10.72 826.64,-14.16 826.6,-7.16"/>
<path class="e" d="M1279.24,-646.37C1200.74,-636.05 1061.04,-609.69 960,-546 927.49,-525.51 903,-519.42 903,-481 903,-481 903,-481 903,-238.5 903,-196.81 937.98,-158.53 960.48,-138.22"/>
<polygon class="ah" points="962.86,-140.78 968.11,-131.58 958.27,-135.5 962.86,-140.78"/>
<path class="e" d="M1335.98,-643.97C1326.55,-617.61 1296.41,-535.32 1265,-470 1237.84,-413.51 1232.08,-398.26 1196,-347 1153.71,-286.92 1093.71,-223.42 1065.63,-194.71"/>
<polygon class="ah" points="1068.1,-192.24 1058.59,-187.57 1063.12,-197.15 1068.1,-192.24"/>
<path class="e" d="M1279.36,-651.96C1058.14,-649.67 295.4,-639.1 260,-602 244.51,-585.77 256.93,-549.48 277,-526 292.73,-507.61 613.89,-359.71 711.87,-314.85"/>
<polygon class="ah" points="713.51,-317.95 721.15,-310.6 710.6,-311.58 713.51,-317.95"/>
<path class="e" d="M1341.14,-643.76C1347.68,-617.04 1367.53,-536.02 1376.5,-499.36"/>
<polygon class="ah" points="1379.93,-500.06 1378.91,-489.52 1373.14,-498.4 1379.93,-500.06"/>
<polygon class="nb" points="1437.5,-582.5 1437.5,-601.5 1572.5,-601.5 1572.5,-582.5 1437.5,-582.5"/>
<text x="1445.346" y="-589.5" textLength="118.709">structures/string_table.h</text>
<path class="e" d="M1362.78,-643.98C1391.38,-633.72 1439.55,-616.46 1471.8,-604.9"/>
<polygon class="ah" points="1473.03,-608.18 1481.26,-601.51 1470.67,-601.59 1473.03,-608.18"/>
<path class="e" d="M1572.67,-585.83C1627.97,-580.03 1699.88,-568.35 1718,-546 1723.6,-539.1 1723.28,-533.15 1718,-526 1685.68,-482.24 1651.33,-510.65 1601,-490 1588.54,-484.89 1395.1,-387.93 1386,-378 1357.74,-347.14 1372.26,-326.43 1350,-291 1310.98,-228.9 1304.15,-203.54 1240,-168 1206.31,-149.33 1104.93,-135.83 1038.89,-128.72"/>
<polygon class="ah" points="1038.92,-125.2 1028.61,-127.63 1038.19,-132.17 1038.92,-125.2"/>
<path class="e" d="M1495.27,-582.37C1474.35,-563.81 1424.87,-519.91 1398.4,-496.44"/>
<polygon class="ah" points="1400.49,-493.61 1390.68,-489.59 1395.84,-498.85 1400.49,-493.61"/>
<polygon class="nr" points="1599,-526.5 1599,-545.5 1691,-545.5 1691,-526.5 1599,-526.5"/>
<text x="1607.26" y="-533.5" textLength="75.181">symbol_table.h</text>
<path class="e" d="M1527.18,-582.44C1550.43,-573.48 1587.15,-559.31 1613.42,-549.18"/>
<polygon class="ah" points="1614.85,-552.38 1622.92,-545.52 1612.33,-545.85 1614.85,-552.38"/>
<path class="e" d="M1603.17,-526.44C1556.92,-516.98 1482.39,-501.74 1432.56,-491.55"/>
<polygon class="ah" points="1433.13,-488.09 1422.64,-489.52 1431.73,-494.95 1433.13,-488.09"/>
<path class="e" d="M1656.79,-526.36C1673.83,-513.9 1706.3,-490.15 1734,-470 1790.37,-429 1806.35,-421.26 1861,-378 1886.3,-357.97 1914.31,-333.32 1931.79,-317.64"/>
<polygon class="ah" points="1934.38,-320.01 1939.46,-310.71 1929.69,-314.81 1934.38,-320.01"/>
<path class="e" d="M1620.62,-526.38C1598.15,-518.1 1564.12,-504.71 1536,-490 1480.72,-461.09 1471.54,-446.02 1418,-414 1389.66,-397.05 1376.34,-401.36 1353,-378 1336.39,-361.38 1324.44,-336.82 1317.63,-320.16"/>
<polygon class="ah" points="1320.77,-318.57 1313.9,-310.51 1314.24,-321.1 1320.77,-318.57"/>
<path class="e" d="M1672.3,-545.53C1690.84,-548.31 1709,-545.13 1709,-536 1709,-528.58 1697.01,-525.09 1682.57,-525.54"/>
<polygon class="ah" points="1681.94,-522.08 1672.3,-526.47 1682.57,-529.05 1681.94,-522.08"/>
</g>
</svg>
</body>
</html>
